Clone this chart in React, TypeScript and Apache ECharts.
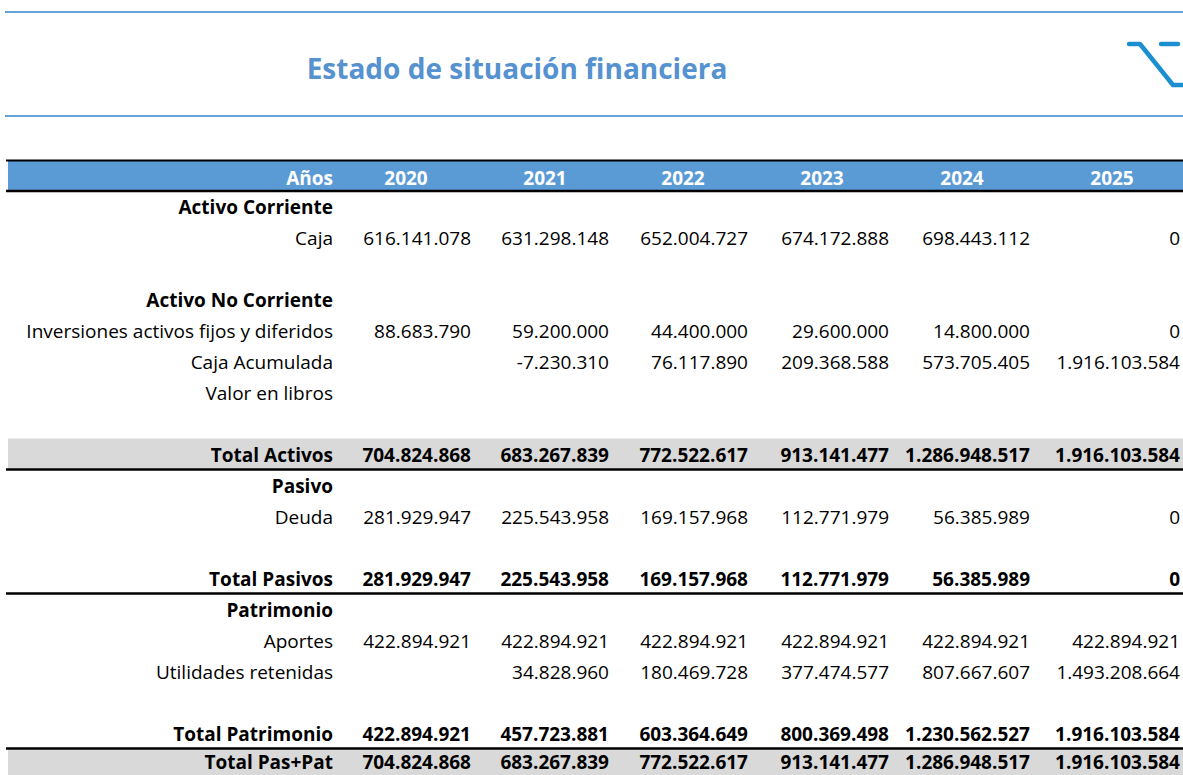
import React, { useEffect, useRef } from "react";
import * as echarts from "echarts";

const title = "Estado de situación financiera";
const headerLabel = "Años";
const years = ["2020", "2021", "2022", "2023", "2024", "2025"];

const rowLabels = [
  "Activo Corriente",
  "Caja",
  "",
  "Activo No Corriente",
  "Inversiones activos fijos y diferidos",
  "Caja Acumulada",
  "Valor en libros",
  "",
  "Total Activos",
  "Pasivo",
  "Deuda",
  "",
  "Total Pasivos",
  "Patrimonio",
  "Aportes",
  "Utilidades retenidas",
  "",
  "Total Patrimonio",
  "Total Pas+Pat",
];

const sectionLabels = ["Activo Corriente", "Activo No Corriente", "Pasivo", "Patrimonio"];
const shadedTotals = ["Total Activos", "Total Pas+Pat"];

const caja = [616141078, 631298148, 652004727, 674172888, 698443112, 0];
const inversiones = [88683790, 59200000, 44400000, 29600000, 14800000, 0];
const cajaAcumulada = [null, -7230310, 76117890, 209368588, 573705405, 1916103584];
const valorLibros = [null, null, null, null, null, null];
const totalActivos = [704824868, 683267839, 772522617, 913141477, 1286948517, 1916103584];
const deuda = [281929947, 225543958, 169157968, 112771979, 56385989, 0];
const totalPasivos = [281929947, 225543958, 169157968, 112771979, 56385989, 0];
const aportes = [422894921, 422894921, 422894921, 422894921, 422894921, 422894921];
const utilidadesRetenidas = [null, 34828960, 180469728, 377474577, 807667607, 1493208664];
const totalPatrimonio = [422894921, 457723881, 603364649, 800369498, 1230562527, 1916103584];
const totalPasPat = [704824868, 683267839, 772522617, 913141477, 1286948517, 1916103584];

const valuesByLabel: Record<string, (number | null)[]> = {
  "Caja": caja,
  "Inversiones activos fijos y diferidos": inversiones,
  "Caja Acumulada": cajaAcumulada,
  "Valor en libros": valorLibros,
  "Total Activos": totalActivos,
  "Deuda": deuda,
  "Total Pasivos": totalPasivos,
  "Aportes": aportes,
  "Utilidades retenidas": utilidadesRetenidas,
  "Total Patrimonio": totalPatrimonio,
  "Total Pas+Pat": totalPasPat,
};

function fmt(v: number): string {
  const neg = v < 0;
  const s = Math.abs(Math.round(v)).toString();
  const parts: string[] = [];
  for (let i = s.length; i > 0; i -= 3) parts.unshift(s.slice(Math.max(0, i - 3), i));
  return (neg ? "-" : "") + parts.join(".");
}

const FONT = "'Open Sans', Lato, sans-serif";

function buildGraphic() {
  const W = 1183;
  const H = 775;
  const left = 8;
  const rowH = 31;
  const rowTop0 = 160.5; // header row top
  const labelRight = 333;
  const colRight = [471, 609, 748, 889, 1030, 1180];
  const headCenter = [406, 545, 683, 822, 962, 1112];
  const fs = 19;

  const fills: any[] = [];
  const lines: any[] = [];
  const texts: any[] = [];

  // top decorative lines
  lines.push({ type: "line", shape: { x1: 5, y1: 12, x2: W, y2: 12 }, style: { stroke: "#6aa3d8", lineWidth: 2 } });
  lines.push({ type: "line", shape: { x1: 5, y1: 116, x2: W, y2: 116 }, style: { stroke: "#6aa3d8", lineWidth: 2 } });

  texts.push({
    type: "text",
    style: { text: title, x: 517, y: 68, textAlign: "center", textVerticalAlign: "middle", fontSize: 28, fontWeight: "bold", fontFamily: FONT, fill: "#5592cf" },
  });

  // logo
  lines.push({ type: "polyline", shape: { points: [[1129, 44], [1140, 44], [1173, 85], [1195, 85]] }, style: { stroke: "#1b8fd0", lineWidth: 4.5, lineCap: "round", lineJoin: "round", fill: null } });
  lines.push({ type: "line", shape: { x1: 1161, y1: 44, x2: 1178, y2: 44 }, style: { stroke: "#1b8fd0", lineWidth: 4.5, lineCap: "round" } });

  // header
  fills.push({ type: "rect", shape: { x: left, y: rowTop0, width: W - left, height: rowH }, style: { fill: "#5b9bd5" } });
  lines.push({ type: "line", shape: { x1: 6, y1: rowTop0, x2: W, y2: rowTop0 }, style: { stroke: "#000", lineWidth: 2 } });
  lines.push({ type: "line", shape: { x1: 6, y1: rowTop0 + rowH - 0.5, x2: W, y2: rowTop0 + rowH - 0.5 }, style: { stroke: "#000", lineWidth: 2.5 } });
  const hy = rowTop0 + 17.5;
  texts.push({ type: "text", style: { text: headerLabel, x: labelRight, y: hy, textAlign: "right", textVerticalAlign: "middle", fontSize: fs, fontWeight: "bold", fontFamily: FONT, fill: "#ffffff" } });
  years.forEach((yr, i) => {
    texts.push({ type: "text", style: { text: yr, x: headCenter[i], y: hy, textAlign: "center", textVerticalAlign: "middle", fontSize: fs, fontWeight: "bold", fontFamily: FONT, fill: "#ffffff" } });
  });

  rowLabels.forEach((label, r) => {
    const top = rowTop0 + rowH * (r + 1);
    const cy = Math.min(top + rowH / 2 - 0.5, H - 13);
    const isTotal = label.startsWith("Total");
    const bold = isTotal || sectionLabels.includes(label);
    if (shadedTotals.includes(label)) {
      fills.push({ type: "rect", shape: { x: left, y: top - 1, width: W - left, height: rowH }, style: { fill: "#d9d9d9" } });
    }
    if (isTotal && label !== "Total Pas+Pat") {
      lines.push({ type: "line", shape: { x1: 6, y1: top + rowH - 1, x2: W, y2: top + rowH - 1 }, style: { stroke: "#000", lineWidth: 2.5 } });
    }
    if (label) {
      texts.push({ type: "text", style: { text: label, x: labelRight, y: cy, textAlign: "right", textVerticalAlign: "middle", fontSize: fs, fontWeight: bold ? "bold" : "normal", fontFamily: FONT, fill: "#000" } });
    }
    const vals = valuesByLabel[label];
    if (vals) {
      vals.forEach((v, i) => {
        if (v === null || v === undefined) return;
        texts.push({ type: "text", style: { text: fmt(v), x: colRight[i], y: cy, textAlign: "right", textVerticalAlign: "middle", fontSize: fs, fontWeight: bold ? "bold" : "normal", fontFamily: FONT, fill: "#000" } });
      });
    }
  });

  return [...fills, ...lines, ...texts];
}

export default function App() {
  const ref = useRef<HTMLDivElement>(null);
  useEffect(() => {
    if (!ref.current) return;
    const chart = echarts.init(ref.current, null, { renderer: "svg" });
    chart.setOption({
      animation: false,
      backgroundColor: "#ffffff",
      graphic: { elements: buildGraphic() },
    });
    return () => chart.dispose();
  }, []);
  return <div ref={ref} style={{ position: "absolute", left: 0, top: 0, width: 1183, height: 775 }} />;
}
